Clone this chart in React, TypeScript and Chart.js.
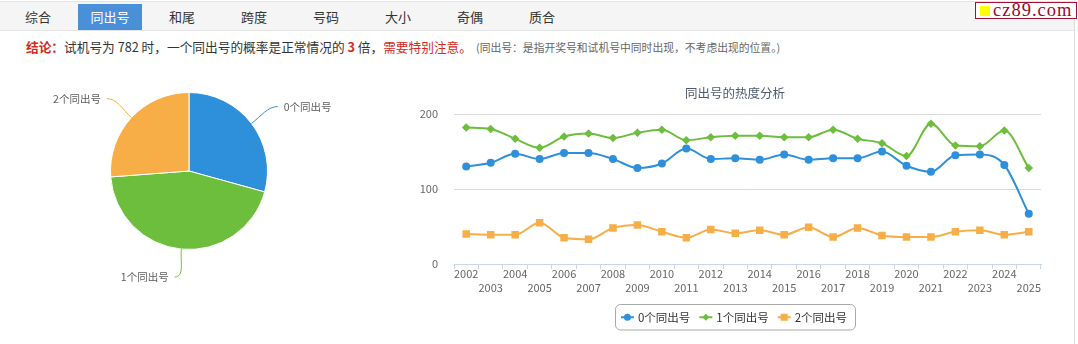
import React, { useEffect, useRef } from 'react';
import { Chart, registerables } from 'chart.js';

Chart.register(...registerables);

const FONT = "'Noto Sans CJK SC', 'Noto Sans', sans-serif";
Chart.defaults.font.family = FONT;

// ---- data ----
const tabs = ['综合', '同出号', '和尾', '跨度', '号码', '大小', '奇偶', '质合'];
const activeTab = 1;

const years = ['2002', '2003', '2004', '2005', '2006', '2007', '2008', '2009', '2010', '2011', '2012', '2013',
  '2014', '2015', '2016', '2017', '2018', '2019', '2020', '2021', '2022', '2023', '2024', '2025'];
const zeroSame = [130, 135, 147, 140, 148, 148, 140, 128, 134, 154, 140, 141, 139, 146, 139, 141, 141, 150, 131, 123, 145, 146, 132, 67];
const oneSame = [182, 180, 167, 155, 170, 174, 168, 175, 179, 165, 169, 171, 171, 169, 169, 179, 167, 161, 144, 187, 158, 157, 178, 128];
const twoSame = [40, 39, 39, 55, 35, 33, 48, 52, 43, 35, 46, 41, 45, 39, 49, 36, 48, 38, 36, 36, 43, 45, 39, 43];
const seriesNames = ['0个同出号', '1个同出号', '2个同出号'];
const yTicks = [0, 100, 200];

const pieLabels = ['0个同出号', '1个同出号', '2个同出号'];
const pieValues = [29.3, 44.5, 26.2];

const chartTitle = '同出号的热度分析';

const BLUE = '#2e90da';
const GREEN = '#6cbe3c';
const ORANGE = '#f7ae46';
const COLORS = [BLUE, GREEN, ORANGE];
const POINT_STYLES = ['circle', 'rectRot', 'rect'];
const POINT_RADII = [4, 4.3, 5.3];

// ---- plugins ----
const pieLabelPlugin = {
  id: 'pieLabelPlugin',
  afterDraw(chart: any) {
    const ctx = chart.ctx;
    const meta = chart.getDatasetMeta(0);
    ctx.save();
    ctx.font = `10.5px ${FONT}`;
    ctx.textBaseline = 'middle';
    meta.data.forEach((arc: any, i: number) => {
      const p = arc.getProps(['x', 'y', 'startAngle', 'endAngle', 'outerRadius'], true);
      const mid = (p.startAngle + p.endAngle) / 2;
      const c = Math.cos(mid);
      const s = Math.sin(mid);
      const right = c >= 0;
      const x0 = p.x + c * p.outerRadius;
      const y0 = p.y + s * p.outerRadius;
      const d = p.outerRadius + 28;
      const x2 = p.x + c * d + (right ? 4 : -4);
      const y2 = p.y + s * d;
      ctx.beginPath();
      ctx.moveTo(x0, y0);
      ctx.bezierCurveTo(x0 + c * 12, y0 + s * 12, x2 + (right ? -10 : 10), y2, x2, y2);
      ctx.strokeStyle = COLORS[i];
      ctx.lineWidth = 1;
      ctx.stroke();
      ctx.fillStyle = '#606060';
      ctx.textAlign = right ? 'left' : 'right';
      ctx.fillText(chart.data.labels[i], x2 + (right ? 6 : -6), y2);
    });
    ctx.restore();
  },
};

function drawMarker(ctx: any, style: string, x: number, y: number, r: number, color: string) {
  ctx.fillStyle = color;
  ctx.beginPath();
  if (style === 'circle') {
    ctx.arc(x, y, r, 0, Math.PI * 2);
  } else if (style === 'rectRot') {
    ctx.moveTo(x, y - r);
    ctx.lineTo(x + r, y);
    ctx.lineTo(x, y + r);
    ctx.lineTo(x - r, y);
    ctx.closePath();
  } else {
    ctx.rect(x - r, y - r, 2 * r, 2 * r);
  }
  ctx.fill();
}

const lineDecorPlugin = {
  id: 'lineDecorPlugin',
  afterDraw(chart: any) {
    const ctx = chart.ctx;
    ctx.save();
    // title
    ctx.font = `12.5px ${FONT}`;
    ctx.fillStyle = '#4d5a6b';
    ctx.textAlign = 'center';
    ctx.textBaseline = 'middle';
    ctx.fillText(chartTitle, chart.width / 2, 13);

    // legend
    ctx.font = `11.5px ${FONT}`;
    const items = chart.data.datasets.map((ds: any, i: number) => ({
      label: ds.label,
      color: ds.borderColor,
      style: POINT_STYLES[i],
      w: ctx.measureText(ds.label).width,
    }));
    const sym = 13, gap1 = 4, gap2 = 9, padL = 6, padR = 8;
    const total = padL + padR + items.reduce((a: number, it: any) => a + sym + gap1 + it.w, 0) + gap2 * (items.length - 1);
    let x = chart.width / 2 - total / 2;
    const top = 224.5, h = 25.5, rad = 5;
    const left = Math.round(x) + 0.5;
    const w = Math.round(total);
    ctx.beginPath();
    ctx.moveTo(left + rad, top);
    ctx.arcTo(left + w, top, left + w, top + h, rad);
    ctx.arcTo(left + w, top + h, left, top + h, rad);
    ctx.arcTo(left, top + h, left, top, rad);
    ctx.arcTo(left, top, left + w, top, rad);
    ctx.closePath();
    ctx.strokeStyle = '#a8a8a8';
    ctx.lineWidth = 1;
    ctx.stroke();
    const cy = top + h / 2;
    x += padL;
    items.forEach((it: any) => {
      ctx.beginPath();
      ctx.moveTo(x, cy);
      ctx.lineTo(x + sym, cy);
      ctx.strokeStyle = it.color;
      ctx.lineWidth = 2;
      ctx.stroke();
      drawMarker(ctx, it.style, x + sym / 2, cy, 3.5, it.color);
      ctx.fillStyle = '#333';
      ctx.textAlign = 'left';
      ctx.textBaseline = 'middle';
      ctx.fillText(it.label, x + sym + gap1, cy);
      x += sym + gap1 + it.w + gap2;
    });
    ctx.restore();
  },
};

function PieChart() {
  const ref = useRef<HTMLCanvasElement>(null);
  useEffect(() => {
    const chart = new Chart(ref.current as HTMLCanvasElement, {
      type: 'pie',
      data: {
        labels: pieLabels,
        datasets: [{
          data: pieValues,
          backgroundColor: COLORS,
          borderColor: '#ffffff',
          borderWidth: 1,
          hoverOffset: 0,
        }],
      },
      options: {
        animation: false,
        responsive: false,
        maintainAspectRatio: false,
        layout: { padding: { top: 12, bottom: 40, left: 0, right: 0 } },
        plugins: { legend: { display: false }, tooltip: { enabled: false }, title: { display: false } },
      },
      plugins: [pieLabelPlugin],
    } as any);
    return () => chart.destroy();
  }, []);
  return <canvas ref={ref} width={378} height={210} style={{ position: 'absolute', left: 0, top: 80, width: 378, height: 210 }} />;
}

function LineChart() {
  const ref = useRef<HTMLCanvasElement>(null);
  useEffect(() => {
    const seriesData = [zeroSame, oneSame, twoSame];
    const chart = new Chart(ref.current as HTMLCanvasElement, {
      type: 'line',
      data: {
        labels: years,
        datasets: seriesData.map((d, i) => ({
          label: seriesNames[i],
          data: d,
          borderColor: COLORS[i],
          backgroundColor: COLORS[i],
          pointBackgroundColor: COLORS[i],
          pointBorderWidth: 0,
          pointStyle: POINT_STYLES[i],
          pointRadius: POINT_RADII[i],
          borderWidth: 2,
          fill: false,
          cubicInterpolationMode: 'monotone',
        })),
      },
      options: {
        animation: false,
        responsive: false,
        maintainAspectRatio: false,
        layout: { padding: { left: 0, top: 34, right: 9, bottom: 48 } },
        plugins: { legend: { display: false }, tooltip: { enabled: false }, title: { display: false } },
        scales: {
          x: {
            type: 'category',
            offset: true,
            grid: { offset: true, drawOnChartArea: false, drawTicks: true, tickLength: 5, color: '#ccd6eb' },
            border: { color: '#ccd6eb', width: 1 },
            ticks: {
              autoSkip: false,
              maxRotation: 0,
              minRotation: 0,
              padding: -3,
              color: '#666',
              font: { size: 11, lineHeight: 1.35 },
              callback: (_v: any, i: number) => (i % 2 === 0 ? years[i] : ['', years[i]]),
            },
            afterFit: (s: any) => { s.height = 32; },
          },
          y: {
            min: yTicks[0],
            max: yTicks[yTicks.length - 1],
            afterBuildTicks: (s: any) => { s.ticks = yTicks.map((v) => ({ value: v })); },
            ticks: { padding: 16, color: '#666', font: { size: 11 } },
            grid: { color: '#d9d9d9', drawTicks: false },
            border: { display: false },
            afterFit: (s: any) => { s.width = 34; },
          },
        },
      },
      plugins: [lineDecorPlugin],
    } as any);
    return () => chart.destroy();
  }, []);
  return <canvas ref={ref} width={630} height={264} style={{ position: 'absolute', left: 420, top: 80, width: 630, height: 264 }} />;
}

export default function App() {
  return (
    <div style={{ position: 'absolute', left: 0, top: 0, width: 1078, height: 344, background: '#fff', fontFamily: FONT, overflow: 'hidden' }}>
      {/* tab bar */}
      <div style={{ position: 'absolute', left: 0, top: 1, width: 1075, height: 30, boxSizing: 'border-box', background: '#f5f5f5', borderTop: '1px solid #e4e4e4', borderBottom: '1px solid #e4e4e4' }} />
      {tabs.map((t, i) => (
        <div key={t} style={{
          position: 'absolute', left: 6 + 72 * i, top: 4, width: 64, height: 26, lineHeight: '26px', textAlign: 'center',
          fontSize: 13, color: i === activeTab ? '#fff' : '#333', background: i === activeTab ? '#4a90d9' : 'transparent',
        }}>{t}</div>
      ))}
      <div style={{ position: 'absolute', left: 1074, top: 1, width: 1, height: 343, background: '#dcdcdc' }} />
      {/* watermark */}
      <div style={{ position: 'absolute', left: 975, top: 2, width: 102, height: 17, boxSizing: 'border-box', border: '1px solid #a3102d', background: '#fff' }}>
        <div style={{ position: 'absolute', left: 4, top: 3, width: 10, height: 10, background: '#ffff00' }} />
        <div style={{ position: 'absolute', left: 17, top: -2, lineHeight: '18px', fontSize: 18.5, fontFamily: "'Liberation Serif', serif", color: '#9b0a2a', letterSpacing: 1, whiteSpace: 'nowrap' }}>cz89.com</div>
      </div>
      {/* conclusion text */}
      <div style={{ position: 'absolute', left: 26, top: 38, height: 18, lineHeight: '18px', fontSize: 12.7, color: '#333', whiteSpace: 'nowrap' }}>
        <span style={{ color: '#d42b1e', fontWeight: 'bold' }}>结论：</span>
        <span>试机号为 782 时，一个同出号的概率是正常情况的 </span>
        <span style={{ color: '#d42b1e', fontWeight: 'bold' }}>3</span>
        <span> 倍，</span>
        <span style={{ color: '#d42b1e' }}>需要特别注意。</span>
        <span style={{ fontSize: 10.8, color: '#666', marginLeft: 4 }}>(同出号：是指开奖号和试机号中同时出现，不考虑出现的位置。)</span>
      </div>
      <PieChart />
      <LineChart />
    </div>
  );
}
